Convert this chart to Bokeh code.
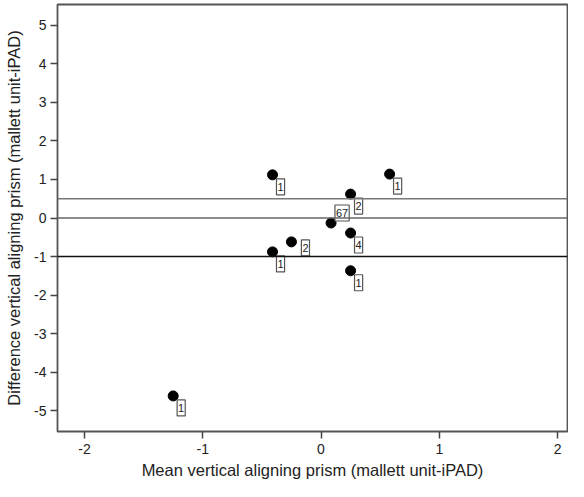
from bokeh.plotting import figure
from bokeh.models import Span, FixedTicker, ColumnDataSource
from bokeh.core.properties import value
from bokeh.embed import file_html
from bokeh.resources import INLINE

# data
mean_vals = [-1.25, -0.41, -0.41, 0.58, 0.25, 0.085, 0.25, -0.25, 0.25]
diff_vals = [-4.62, 1.12, -0.88, 1.14, 0.62, -0.13, -0.39, -0.62, -1.37]
counts = ["1", "1", "1", "1", "2", "67", "4", "2", "1"]
label_dx = [8, 8, 8, 8, 8, 11, 8, 14, 8]
label_dy = [12, 12, 12, 12, 12, -10, 12, 6, 12]
hlines = [0.5, 0.0, -1.0]
hline_colors = ["#777777", "#666666", "#111111"]
x_ticks = [-2, -1, 0, 1, 2]
y_ticks = [-5, -4, -3, -2, -1, 0, 1, 2, 3, 4, 5]

FONT = "Liberation Sans"

p = figure(width=568, height=481, output_backend="svg", toolbar_location=None,
           x_range=(-2.228, 2.084), y_range=(-5.544, 5.544),
           min_border_left=57, min_border_top=4, min_border_right=1, min_border_bottom=49)

p.xgrid.visible = False
p.ygrid.visible = False
p.outline_line_color = "#555555"
p.outline_line_width = 1.8
p.background_fill_color = "white"

for ax in (p.xaxis[0], p.yaxis[0]):
    ax.axis_line_color = None
    ax.major_tick_line_color = "#444444"
    ax.major_tick_line_width = 1.5
    ax.major_tick_in = 0
    ax.major_tick_out = 7
    ax.minor_tick_line_color = None
    ax.major_label_text_font = FONT
    ax.major_label_text_font_size = "14px"
    ax.major_label_text_color = "#222222"
    ax.axis_label_text_font = FONT
    ax.axis_label_text_font_size = "16.5px"
    ax.axis_label_text_font_style = "normal"
    ax.axis_label_text_color = "#222222"

p.xaxis.ticker = FixedTicker(ticks=x_ticks)
p.yaxis.ticker = FixedTicker(ticks=y_ticks)
p.xaxis.major_label_overrides = {t: str(t) for t in x_ticks}
p.yaxis.major_label_overrides = {t: str(t) for t in y_ticks}
p.xaxis.major_label_standoff = 5
p.yaxis.major_label_standoff = 4
p.xaxis.axis_label_standoff = 4
p.yaxis.axis_label_standoff = 8
p.xaxis.axis_label = "Mean vertical aligning prism (mallett unit-iPAD)"
p.yaxis.axis_label = "Difference vertical aligning prism (mallett unit-iPAD)"

for yv, c in zip(hlines, hline_colors):
    p.add_layout(Span(location=yv, dimension="width", line_color=c, line_width=1.5))

src = ColumnDataSource(dict(x=mean_vals, y=diff_vals, t=counts,
                            dx=label_dx, dy=label_dy))
p.scatter("x", "y", source=src, size=10, color="black")
p.text("x", "y", text="t", source=src, x_offset="dx", y_offset="dy",
       text_align="center", text_baseline="middle",
       text_font=value(FONT), text_font_size="11px", text_color="#222222",
       border_line_color="#555555", border_line_width=1.2,
       background_fill_color="white", padding=(1, 4))

open("out.html", "w").write(file_html(p, INLINE))
